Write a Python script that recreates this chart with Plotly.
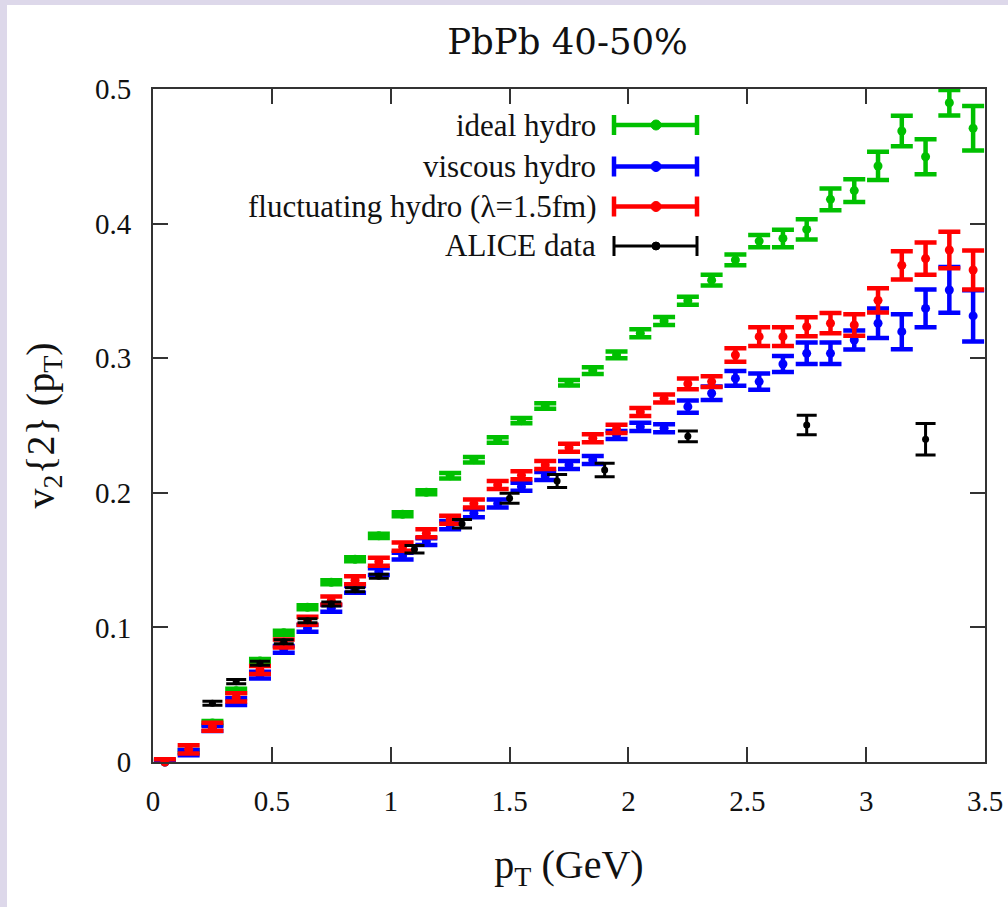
import plotly.graph_objects as go

# ---------------- data ----------------
pt_model = [0.05, 0.15, 0.25, 0.35, 0.45, 0.55, 0.65, 0.75, 0.85, 0.95,
            1.05, 1.15, 1.25, 1.35, 1.45, 1.55, 1.65, 1.75, 1.85, 1.95,
            2.05, 2.15, 2.25, 2.35, 2.45, 2.55, 2.65, 2.75, 2.85, 2.95,
            3.05, 3.15, 3.25, 3.35, 3.45]

ideal_v2 = [0.0, 0.008, 0.029, 0.053, 0.075, 0.096, 0.115, 0.1335, 0.1506, 0.168,
            0.184, 0.2004, 0.2127, 0.2246, 0.2392, 0.2536, 0.2645, 0.2818, 0.2907, 0.3024,
            0.3185, 0.3276, 0.3427, 0.358, 0.373, 0.387, 0.389, 0.3957, 0.418, 0.4245,
            0.4428, 0.4688, 0.4497, 0.4898, 0.4708]
ideal_err = [0.001, 0.001, 0.0015, 0.0015, 0.0015, 0.0015, 0.0015, 0.0015, 0.0015, 0.0015,
             0.0015, 0.0015, 0.002, 0.002, 0.002, 0.002, 0.002, 0.002, 0.0025, 0.0025,
             0.003, 0.003, 0.003, 0.004, 0.004, 0.0045, 0.0065, 0.0075, 0.008, 0.0085,
             0.0105, 0.0113, 0.013, 0.0095, 0.0165]

viscous_v2 = [0.0, 0.007, 0.025, 0.0448, 0.0646, 0.0837, 0.0993, 0.1142, 0.1283, 0.1414,
              0.153, 0.1637, 0.176, 0.1848, 0.192, 0.2045, 0.2125, 0.2207, 0.2244, 0.243,
              0.249, 0.248, 0.264, 0.274, 0.285, 0.2826, 0.2957, 0.3036, 0.3036, 0.3135,
              0.326, 0.3197, 0.337, 0.3507, 0.3314]
viscous_err = [0.001, 0.002, 0.002, 0.0025, 0.0025, 0.0025, 0.0025, 0.0025, 0.0025, 0.0025,
               0.0025, 0.0025, 0.003, 0.003, 0.003, 0.003, 0.003, 0.003, 0.003, 0.003,
               0.003, 0.003, 0.0045, 0.005, 0.0055, 0.006, 0.006, 0.008, 0.008, 0.007,
               0.011, 0.013, 0.014, 0.017, 0.019]

fluct_v2 = [0.0, 0.0094, 0.0262, 0.048, 0.0684, 0.088, 0.105, 0.120, 0.135, 0.1488,
            0.160, 0.170, 0.180, 0.192, 0.2058, 0.213, 0.2207, 0.2335, 0.2405, 0.2475,
            0.260, 0.270, 0.281, 0.2826, 0.3024, 0.316, 0.316, 0.3234, 0.326, 0.3247,
            0.343, 0.369, 0.374, 0.3804, 0.3655]
fluct_err = [0.002, 0.003, 0.003, 0.003, 0.003, 0.003, 0.003, 0.003, 0.003, 0.003,
             0.003, 0.003, 0.003, 0.003, 0.003, 0.003, 0.003, 0.003, 0.003, 0.003,
             0.003, 0.003, 0.004, 0.004, 0.005, 0.007, 0.007, 0.007, 0.0075, 0.008,
             0.009, 0.0105, 0.012, 0.0135, 0.0145]

pt_alice = [0.25, 0.35, 0.45, 0.55, 0.65, 0.75, 0.85, 0.95, 1.1, 1.3,
            1.5, 1.7, 1.9, 2.25, 2.75, 3.25]
alice_v2 = [0.0436, 0.0597, 0.0733, 0.0894, 0.105, 0.1174, 0.128, 0.138, 0.158, 0.177,
            0.196, 0.2088, 0.217, 0.242, 0.2504, 0.2397]
alice_err = [0.0015, 0.0015, 0.0015, 0.0015, 0.0015, 0.0015, 0.0015, 0.0015, 0.0028, 0.0032,
             0.0037, 0.0048, 0.005, 0.004, 0.0073, 0.0117]

series_names = ["ideal hydro", "viscous hydro", "fluctuating hydro (λ=1.5fm)", "ALICE data"]
series_colors = ["#00c000", "#0000ff", "#ff0000", "#000000"]

x_ticks = [0, 0.5, 1, 1.5, 2, 2.5, 3, 3.5]
y_ticks = [0, 0.1, 0.2, 0.3, 0.4, 0.5]

# ---------------- layout geometry ----------------
W, H = 1008, 907
L, R, T, B = 153, 23, 89, 145
PW, PH = W - L - R, H - T - B

def px_x(p):
    return (p - L) / PW

def px_y(p):
    return (H - B - p) / PH

SERIF = "Liberation Serif"

fig = go.Figure()

series = [
    (pt_model, ideal_v2, ideal_err, 0),
    (pt_model, viscous_v2, viscous_err, 1),
    (pt_model, fluct_v2, fluct_err, 2),
    (pt_alice, alice_v2, alice_err, 3),
]
for xs, ys, es, i in series:
    black = (i == 3)
    fig.add_trace(go.Scatter(
        x=xs, y=ys, mode="markers", name=series_names[i],
        marker=dict(color=series_colors[i], size=7 if black else 9),
        error_y=dict(type="data", array=es, visible=True,
                     color=series_colors[i],
                     thickness=3 if black else 4.5,
                     width=10 if black else 11),
        cliponaxis=False,
        showlegend=False,
    ))

shapes = []
annotations = []

# page border tint (left and top strips)
tint = "#ddd8ea"
shapes.append(dict(type="rect", xref="paper", yref="paper",
                   x0=px_x(0), x1=px_x(7), y0=px_y(H), y1=px_y(0),
                   fillcolor=tint, line=dict(width=0), layer="below"))
shapes.append(dict(type="rect", xref="paper", yref="paper",
                   x0=px_x(0), x1=px_x(W), y0=px_y(5), y1=px_y(0),
                   fillcolor=tint, line=dict(width=0), layer="below"))

# manual legend (text left, error-bar symbol right)
leg_rows = [125, 166.5, 206.5, 246]
sym_x0, sym_x1, sym_xc = 614, 697, 656
text_right = 598
for i, row in enumerate(leg_rows):
    c = series_colors[i]
    lw = 3 if i == 3 else 4.5
    yp = px_y(row)
    shapes.append(dict(type="line", xref="paper", yref="paper",
                       x0=px_x(sym_x0), x1=px_x(sym_x1), y0=yp, y1=yp,
                       line=dict(color=c, width=lw)))
    for xe in (sym_x0, sym_x1):
        shapes.append(dict(type="line", xref="paper", yref="paper",
                           x0=px_x(xe), x1=px_x(xe), y0=px_y(row - 10), y1=px_y(row + 10),
                           line=dict(color=c, width=lw)))
    r = 4 if i == 3 else 5
    shapes.append(dict(type="circle", xref="paper", yref="paper",
                       x0=px_x(sym_xc - r), x1=px_x(sym_xc + r),
                       y0=px_y(row + r), y1=px_y(row - r),
                       fillcolor=c, line=dict(color=c, width=1)))
    annotations.append(dict(text=series_names[i], xref="paper", yref="paper",
                            x=px_x(text_right), y=yp, xanchor="right", yanchor="middle",
                            showarrow=False,
                            font=dict(family=SERIF, size=31, color="#111111")))

axis_common = dict(
    showline=True, linecolor="#333333", linewidth=2, mirror="ticks",
    ticks="inside", ticklen=15, tickwidth=2, tickcolor="#333333",
    showgrid=False, zeroline=False, automargin=False,
    tickfont=dict(family=SERIF, size=29, color="#111111"),
)

fig.update_layout(
    width=W, height=H,
    margin=dict(l=L, r=R, t=T, b=B, autoexpand=False),
    paper_bgcolor="white", plot_bgcolor="white",
    title=dict(text="PbPb 40-50%", x=567.5 / W, xanchor="center",
               y=1 - 42 / H, yanchor="middle",
               font=dict(family="DejaVu Serif", size=35.5, color="#111111")),
    xaxis=dict(range=[0, 3.5], tickvals=x_ticks, ticktext=[f"{v:g}" for v in x_ticks],
               title=dict(text="p<sub>T</sub> (GeV)", standoff=34,
                          font=dict(family=SERIF, size=40, color="#111111")),
               ticklabelstandoff=12, **axis_common),
    yaxis=dict(range=[0, 0.5], tickvals=y_ticks, ticktext=[f"{v:g}" for v in y_ticks],
               title=dict(text="v<sub>2</sub>{2} (p<sub>T</sub>)", standoff=28,
                          font=dict(family=SERIF, size=40, color="#111111")),
               ticklabelstandoff=14, **axis_common),
    shapes=shapes,
    annotations=annotations,
)

fig.write_html("out.html",
               config={"displayModeBar": False},
               post_script="document.body.style.margin='0';document.body.style.overflow='hidden';")
